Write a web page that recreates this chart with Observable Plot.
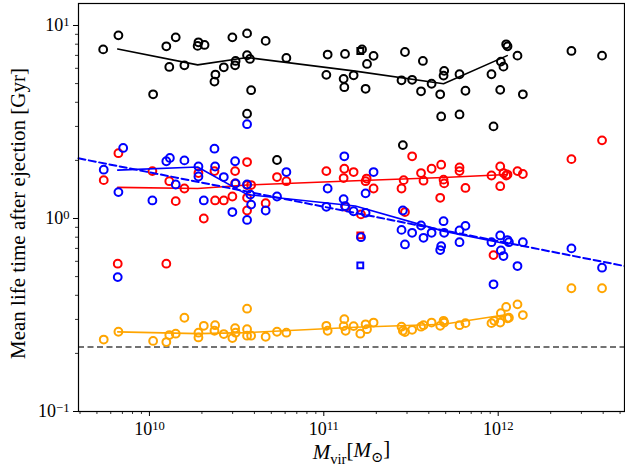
<!DOCTYPE html>
<html>
<head>
<meta charset="utf-8">
<script src="https://cdn.jsdelivr.net/npm/d3@7"></script>
<script src="https://cdn.jsdelivr.net/npm/@observablehq/plot@0.6"></script>
<style>
  html, body { margin: 0; padding: 0; background: white; }
  svg text { font-family: "Liberation Serif", "DejaVu Serif", serif; }
</style>
</head>
<body>
<div id="chart"></div>
<script>
// ---- data (x: M_vir in solar masses, y: mean life time in Gyr) ----
const blackPoints = [
  [5.43e9,7.52],[6.64e9,8.89],[1.05e10,4.40],[1.25e10,7.80],[1.30e10,6.10],[1.415e10,8.68],[1.587e10,6.22],
  [1.91e10,8.18],[1.89e10,7.84],[2.07e10,7.93],[2.36e10,5.12],[2.39e10,5.57],[2.67e10,6.07],[2.99e10,8.68],
  [3.10e10,6.22],[3.12e10,6.55],[3.63e10,9.10],[3.63e10,7.01],[3.77e10,6.71],[3.83e10,4.62],[3.63e10,3.49],
  [4.64e10,8.32],[6.10e10,6.79],[5.39e10,2.01],[1.052e11,7.07],[1.034e11,5.55],[1.323e11,7.12],[1.299e11,5.29],
  [1.311e11,4.79],[1.482e11,5.52],[1.656e11,7.52],[1.929e11,6.96],[1.769e11,6.32],[1.736e11,4.70],[2.92e11,7.29],
  [2.79e11,5.20],[3.21e11,5.23],[3.70e11,6.55],[3.61e11,4.56],[4.15e11,4.99],[4.90e11,5.82],[4.86e11,5.50],
  [4.65e11,4.40],[4.71e11,3.38],[6.00e11,5.59],[6.49e11,4.59],[6.00e11,3.46],[9.15e11,5.59],[1.036e12,6.50],
  [1.072e12,6.12],[1.027e12,4.64],[9.40e11,3.00],[1.111e12,7.99],[1.131e12,7.80],[1.290e12,6.98],[1.385e12,4.40],
  [2.63e12,7.38],[3.94e12,6.98],[2.84e11,2.40]
];
const redPoints = [
  [5.47e9,1.58],[6.64e9,2.18],[6.58e9,0.583],[1.04e10,1.76],[1.30e10,1.56],[1.25e10,0.583],[1.415e10,1.23],
  [1.587e10,1.43],[1.91e10,1.72],[2.05e10,1.00],[2.36e10,1.76],[2.38e10,1.24],[2.67e10,1.24],[2.99e10,1.30],
  [3.10e10,1.76],[3.10e10,1.52],[3.63e10,1.96],[3.63e10,1.28],[3.63e10,1.10],[3.63e10,1.49],[3.83e10,1.49],
  [4.64e10,1.20],[5.39e10,1.64],[6.10e10,1.56],[1.034e11,1.76],[1.311e11,1.81],[1.299e11,1.62],[1.482e11,1.74],
  [1.334e11,1.15],[1.634e11,1.05],[1.76e11,1.61],[1.736e11,1.56],[1.929e11,1.43],[3.21e11,2.10],[2.87e11,1.58],
  [2.79e11,1.43],[2.92e11,1.08],[3.61e11,1.72],[3.73e11,1.57],[4.15e11,1.81],[4.71e11,1.90],[4.86e11,1.59],
  [4.90e11,1.52],[4.65e11,1.28],[6.00e11,1.84],[6.00e11,1.76],[6.49e11,1.44],[9.15e11,1.67],[1.027e12,1.86],
  [1.027e12,1.47],[1.072e12,1.72],[1.111e12,1.67],[1.131e12,1.69],[1.290e12,1.76],[1.385e12,1.70],[9.40e11,0.646],
  [2.63e12,2.03],[3.94e12,2.54]
];
const bluePoints = [
  [5.47e9,1.79],[7.07e9,2.32],[6.64e9,1.37],[6.58e9,0.497],[1.04e10,1.24],[1.25e10,1.98],[1.31e10,2.06],
  [1.587e10,2.00],[1.415e10,1.50],[1.91e10,1.86],[1.91e10,1.65],[2.05e10,1.24],[2.36e10,2.30],[2.38e10,1.86],
  [2.67e10,1.64],[3.10e10,1.98],[3.12e10,1.52],[2.99e10,1.08],[3.63e10,0.983],[3.63e10,1.50],[3.79e10,1.33],
  [3.83e10,1.18],[4.64e10,1.10],[5.39e10,1.30],[6.10e10,1.74],[1.052e11,1.43],[1.034e11,1.15],[1.311e11,2.10],
  [1.299e11,1.26],[1.323e11,1.16],[1.482e11,1.09],[1.634e11,0.800],[1.929e11,1.74],[1.736e11,1.35],[1.736e11,1.07],
  [2.84e11,1.10],[2.79e11,0.873],[2.92e11,0.734],[3.21e11,0.843],[3.61e11,0.920],[3.73e11,0.794],[4.15e11,0.843],
  [4.86e11,0.968],[4.90e11,0.843],[4.71e11,0.719],[4.65e11,0.686],[6.00e11,0.867],[6.00e11,0.754],[6.49e11,0.916],
  [9.15e11,0.754],[1.027e12,0.817],[1.131e12,0.773],[1.152e12,0.754],[1.036e12,0.683],[1.072e12,0.639],
  [1.385e12,0.754],[1.290e12,0.567],[9.40e11,0.456],[2.63e12,0.700],[3.94e12,0.556],[3.63e10,3.08]
];
const orangePoints = [
  [5.47e9,0.236],[6.64e9,0.259],[1.05e10,0.232],[1.25e10,0.229],[1.30e10,0.249],[1.415e10,0.253],[1.587e10,0.306],
  [1.91e10,0.256],[1.91e10,0.242],[2.05e10,0.278],[2.36e10,0.262],[2.38e10,0.280],[2.67e10,0.252],[2.99e10,0.240],
  [3.10e10,0.270],[3.12e10,0.256],[3.63e10,0.341],[3.63e10,0.267],[3.63e10,0.247],[3.83e10,0.247],[4.64e10,0.244],
  [5.39e10,0.259],[6.10e10,0.256],[1.034e11,0.278],[1.052e11,0.262],[1.311e11,0.301],[1.299e11,0.277],
  [1.334e11,0.262],[1.482e11,0.277],[1.619e11,0.253],[1.736e11,0.283],[1.769e11,0.267],[1.929e11,0.289],
  [2.79e11,0.275],[2.84e11,0.262],[2.92e11,0.258],[3.21e11,0.265],[3.61e11,0.275],[3.73e11,0.280],[4.15e11,0.289],
  [4.65e11,0.278],[4.86e11,0.295],[4.90e11,0.289],[6.00e11,0.280],[6.49e11,0.287],[9.15e11,0.287],[9.49e11,0.295],
  [1.027e12,0.289],[1.036e12,0.323],[1.111e12,0.348],[1.131e12,0.304],[1.152e12,0.306],[1.290e12,0.359],
  [1.385e12,0.316],[2.63e12,0.435],[3.94e12,0.435]
];
// square markers (one per colour)
const blackSquare = [[1.619e11,7.38]];
const redSquare = [[1.619e11,0.817]];
const blueSquare = [[1.619e11,0.572]];

// binned trend lines
const trendMass = [6.58e9, 1.89e10, 3.64e10, 1.515e11, 4.86e11, 1.126e12];
const blackTrend = [7.56, 6.25, 6.82, 5.80, 4.99, 6.98];
const redTrend = [1.45, 1.43, 1.49, 1.57, 1.63, 1.69];
const blueTrend = [1.78, 1.85, 1.33, 1.16, 0.86, 0.737];
const orangeTrend = [0.2585, 0.2533, 0.2563, 0.2733, 0.2833, 0.318];

// dashed blue power-law fit (end points) and horizontal reference
const blueFitMass = [3.92e9, 5.3e12];
const blueFitLife = [2.05, 0.567];
const referenceLife = 0.216;

// axes
const xDomain = [3.92e9, 5.3e12];
const yDomain = [0.1, 13.0];
const xMajorTicks = [1e10, 1e11, 1e12];
const xTickLabels = ["10^10", "10^11", "10^12"];
const xMinorTicks = [4e9,5e9,6e9,7e9,8e9,9e9,2e10,3e10,4e10,5e10,6e10,7e10,8e10,9e10,
                     2e11,3e11,4e11,5e11,6e11,7e11,8e11,9e11,2e12,3e12,4e12,5e12];
const yMajorTicks = [0.1, 1, 10];
const yTickLabels = ["10^\u22121", "10^0", "10^1"];
const yMinorTicks = [0.2,0.3,0.4,0.5,0.6,0.7,0.8,0.9,2,3,4,5,6,7,8,9];
const xLabelText = "Mvir[M\u2299]";
const yLabelText = "Mean life time after ejection [Gyr]";

// ---- build ----
const SERIF = "Liberation Serif";
const trendRows = (vals) => trendMass.map((m, i) => ({m, t: vals[i]}));
const pts = (arr) => arr.map(([m, t]) => ({m, t}));
const fitRows = blueFitMass.map((m, i) => ({m, t: blueFitLife[i]}));

const dotOpts = (stroke) => ({x: "m", y: "t", r: 3.9, stroke, fill: "none", strokeWidth: 2});
const sqOpts = (stroke) => ({x: "m", y: "t", r: 3.3, symbol: "square", stroke, fill: "none", strokeWidth: 2});
const lineOpts = (stroke) => ({x: "m", y: "t", stroke, strokeWidth: 1.6});

const chart = Plot.plot({
  width: 625,
  height: 468,
  marginLeft: 78,
  marginRight: 1,
  marginTop: 3,
  marginBottom: 57,
  x: {type: "log", domain: xDomain},
  y: {type: "log", domain: yDomain},
  style: {fontFamily: SERIF, background: "white", color: "black"},
  marks: [
    Plot.ruleY([referenceLife], {stroke: "#444", strokeWidth: 1.5, strokeDasharray: "6,3.5"}),
    Plot.dot(pts(blackPoints), dotOpts("black")),
    Plot.dot(pts(blackSquare), sqOpts("black")),
    Plot.line(trendRows(blackTrend), lineOpts("black")),
    Plot.dot(pts(redPoints), dotOpts("red")),
    Plot.dot(pts(redSquare), sqOpts("red")),
    Plot.line(trendRows(redTrend), lineOpts("red")),
    Plot.dot(pts(bluePoints), dotOpts("blue")),
    Plot.dot(pts(blueSquare), sqOpts("blue")),
    Plot.line(trendRows(blueTrend), lineOpts("blue")),
    Plot.line(fitRows, {x: "m", y: "t", stroke: "blue", strokeWidth: 2, strokeDasharray: "7,3.5"}),
    Plot.dot(pts(orangePoints), dotOpts("orange")),
    Plot.line(trendRows(orangeTrend), lineOpts("orange")),
    Plot.frame({stroke: "black", strokeWidth: 1.2}),
    Plot.axisX(xMinorTicks, {tickSize: 3, tickFormat: () => "", stroke: "black", strokeWidth: 0.8, label: null}),
    Plot.axisX(xMajorTicks, {tickSize: 5, tickPadding: 6, stroke: "black", strokeWidth: 1, fontFamily: SERIF,
      tickFormat: (d) => xTickLabels[xMajorTicks.indexOf(d)], fontSize: 18, label: null}),
    Plot.axisY(yMinorTicks, {tickSize: 3, tickFormat: () => "", stroke: "black", strokeWidth: 0.8, label: null}),
    Plot.axisY(yMajorTicks, {tickSize: 5, tickPadding: 4, stroke: "black", strokeWidth: 1, fontFamily: SERIF,
      tickFormat: (d) => yTickLabels[yMajorTicks.indexOf(d)], fontSize: 18, label: null}),
    Plot.text([yLabelText], {frameAnchor: "left", textAnchor: "middle", text: (d) => d, rotate: -90,
      dx: -60, dy: 6, fontSize: 21, fontFamily: SERIF, fill: "black"}),
    Plot.text([xLabelText], {frameAnchor: "bottom", textAnchor: "middle", text: (d) => d, dy: 41,
      fontSize: 21, fontFamily: SERIF, fill: "black", lineAnchor: "middle"})
  ]
});

// typeset superscripts and the subscripted axis label
const NS = "http://www.w3.org/2000/svg";
function tspan(txt, attrs) {
  const s = document.createElementNS(NS, "tspan");
  for (const k in attrs) s.setAttribute(k, attrs[k]);
  s.textContent = txt;
  return s;
}
chart.querySelectorAll("text").forEach((t) => {
  const s = t.textContent;
  if (s.includes("^")) {
    const [base, exp] = s.split("^");
    t.textContent = base;
    t.appendChild(tspan(exp, {dy: "-0.45em", style: "font-size:70%"}));
  } else if (s === xLabelText) {
    t.textContent = "";
    t.appendChild(tspan("M", {style: "font-style:italic"}));
    t.appendChild(tspan("vir", {dy: "0.3em", style: "font-size:70%"}));
    t.appendChild(tspan("[", {dy: "-0.3em"}));
    t.appendChild(tspan("M", {style: "font-style:italic"}));
    t.appendChild(tspan("\u2299", {dy: "0.3em", style: "font-size:70%"}));
    t.appendChild(tspan("]", {dy: "-0.3em"}));
  }
});
document.getElementById("chart").appendChild(chart);
</script>
</body>
</html>
